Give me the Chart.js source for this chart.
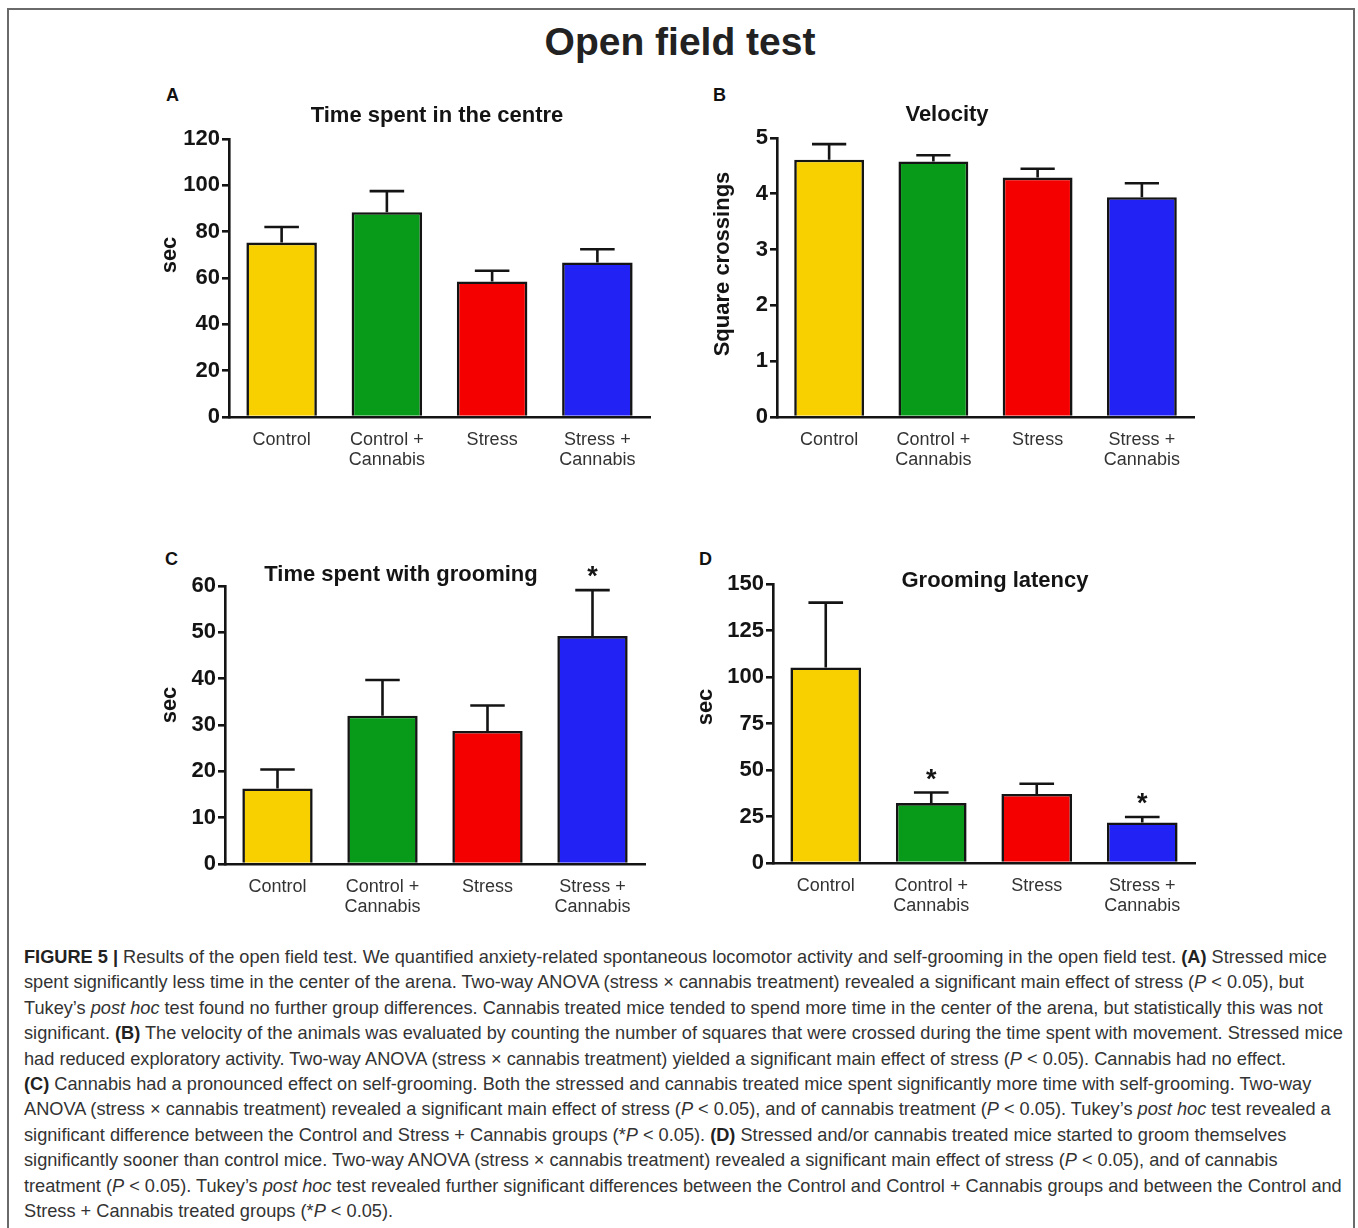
<!DOCTYPE html>
<html>
<head>
<meta charset="utf-8">
<title>Open field test</title>
<script src="https://cdn.jsdelivr.net/npm/chart.js@4.4.1/dist/chart.umd.min.js"></script>
<style>
  html, body { margin: 0; padding: 0; background: #fff; }
  body { width: 1358px; height: 1228px; position: relative; overflow: hidden;
         font-family: "Liberation Sans", Arial, Helvetica, sans-serif; }
  #frame { position: absolute; left: 7px; top: 8px; width: 1348px; height: 1260px;
           border: 2px solid #6a6a6a; box-sizing: border-box; }
  #fig-title { position: absolute; left: 0; top: 22px; width: 1360px; text-align: center;
               font-weight: bold; font-size: 39px; line-height: 39px; color: #222; }
  .letter { position: absolute; font-weight: bold; font-size: 18px; line-height: 18px; color: #111; }
  canvas.panel { position: absolute; }
  #caption { position: absolute; left: 24px; top: 945px; font-size: 18.2px; line-height: 25.4px;
             color: #333; white-space: nowrap; }
  #caption b { color: #222; }
</style>
</head>
<body>
<div id="frame"></div>
<div id="fig-title">Open field test</div>

<div class="letter" style="left:166px; top:86px;">A</div>
<div class="letter" style="left:713px; top:86px;">B</div>
<div class="letter" style="left:165px; top:550px;">C</div>
<div class="letter" style="left:699px; top:550px;">D</div>

<canvas class="panel" id="panelA"></canvas>
<canvas class="panel" id="panelB"></canvas>
<canvas class="panel" id="panelC"></canvas>
<canvas class="panel" id="panelD"></canvas>

<div id="caption">
<b>FIGURE 5 |</b> Results of the open field test. We quantified anxiety-related spontaneous locomotor activity and self-grooming in the open field test. <b>(A)</b> Stressed mice<br>
spent significantly less time in the center of the arena. Two-way ANOVA (stress × cannabis treatment) revealed a significant main effect of stress (<i>P</i> &lt; 0.05), but<br>
Tukey’s <i>post hoc</i> test found no further group differences. Cannabis treated mice tended to spend more time in the center of the arena, but statistically this was not<br>
significant. <b>(B)</b> The velocity of the animals was evaluated by counting the number of squares that were crossed during the time spent with movement. Stressed mice<br>
had reduced exploratory activity. Two-way ANOVA (stress × cannabis treatment) yielded a significant main effect of stress (<i>P</i> &lt; 0.05). Cannabis had no effect.<br>
<b>(C)</b> Cannabis had a pronounced effect on self-grooming. Both the stressed and cannabis treated mice spent significantly more time with self-grooming. Two-way<br>
ANOVA (stress × cannabis treatment) revealed a significant main effect of stress (<i>P</i> &lt; 0.05), and of cannabis treatment (<i>P</i> &lt; 0.05). Tukey’s <i>post hoc</i> test revealed a<br>
significant difference between the Control and Stress + Cannabis groups (*<i>P</i> &lt; 0.05). <b>(D)</b> Stressed and/or cannabis treated mice started to groom themselves<br>
significantly sooner than control mice. Two-way ANOVA (stress × cannabis treatment) revealed a significant main effect of stress (<i>P</i> &lt; 0.05), and of cannabis<br>
treatment (<i>P</i> &lt; 0.05). Tukey’s <i>post hoc</i> test revealed further significant differences between the Control and Control + Cannabis groups and between the Control and<br>
Stress + Cannabis treated groups (*<i>P</i> &lt; 0.05).
</div>

<script>
// Experimental groups (x-axis categories)
const groups = [["Control"], ["Control +", "Cannabis"], ["Stress"], ["Stress +", "Cannabis"]];

// (A) Time spent in the centre, sec: mean and SEM
const centreTimeMean = [75.3, 88.4, 58.5, 66.7];
const centreTimeSem  = [6.7, 9.1, 4.6, 5.7];

// (B) Velocity, square crossings: mean and SEM
const velocityMean = [4.61, 4.58, 4.29, 3.94];
const velocitySem  = [0.28, 0.11, 0.16, 0.25];

// (C) Time spent with grooming, sec: mean, SEM, significance vs Control
const groomTimeMean = [16.3, 32.0, 28.7, 49.2];
const groomTimeSem  = [4.1, 7.7, 5.5, 9.9];
const groomTimeSig  = ["", "", "", "*"];

// (D) Grooming latency, sec: mean, SEM, significance vs Control
const groomLatencyMean = [105.1, 32.2, 37.1, 21.8];
const groomLatencySem  = [34.9, 5.7, 5.5, 2.9];
const groomLatencySig  = ["", "*", "", "*"];

// y-axis ranges: [min, max, step]
const centreTimeAxis   = [0, 120, 20];
const velocityAxis     = [0, 5, 1];
const groomTimeAxis    = [0, 60, 10];
const groomLatencyAxis = [0, 150, 25];

const groupColors = ["#F8D000", "#089A19", "#F40000", "#2222F4"];
const INK = "#141414";
const FONT = '"Liberation Sans", Arial, Helvetica, sans-serif';

// Upper SEM whiskers and significance asterisks, placed from the data via the scales
const errorBars = {
  id: "errorBars",
  afterDatasetsDraw(chart, args, opts) {
    const ds = chart.data.datasets[0];
    const meta = chart.getDatasetMeta(0);
    const yScale = chart.scales.y;
    const ctx = chart.ctx;
    ctx.save();
    ctx.strokeStyle = INK;
    ctx.lineWidth = opts.lineWidth;
    meta.data.forEach((bar, i) => {
      const top = yScale.getPixelForValue(ds.data[i] + ds.sem[i]);
      const half = bar.width * opts.capRatio / 2;
      ctx.beginPath();
      ctx.moveTo(bar.x, bar.y);
      ctx.lineTo(bar.x, top);
      ctx.moveTo(bar.x - half, top);
      ctx.lineTo(bar.x + half, top);
      ctx.stroke();
      const mark = ds.sig ? ds.sig[i] : "";
      if (mark) {
        ctx.fillStyle = INK;
        ctx.font = "bold 27px " + FONT;
        ctx.textAlign = "center";
        ctx.textBaseline = "alphabetic";
        ctx.fillText(mark, bar.x, top - opts.markGap);
      }
    });
    ctx.restore();
  }
};

// Panel heading and rotated y-axis title
const panelText = {
  id: "panelText",
  afterDraw(chart, args, o) {
    const ctx = chart.ctx;
    ctx.save();
    ctx.fillStyle = INK;
    ctx.font = "bold 22px " + FONT;
    ctx.textAlign = "center";
    ctx.textBaseline = "middle";
    ctx.fillText(o.title, o.titleX, o.titleY);
    ctx.translate(o.axisX, o.axisY);
    ctx.rotate(-Math.PI / 2);
    ctx.fillText(o.axisTitle, 0, 0);
    ctx.restore();
  }
};

function makePanel(id, box, area, means, sems, sig, axis, text) {
  const canvas = document.getElementById(id);
  canvas.width = box.w;
  canvas.height = box.h;
  canvas.style.left = box.x + "px";
  canvas.style.top = box.y + "px";
  canvas.style.width = box.w + "px";
  canvas.style.height = box.h + "px";

  const yWidth = area.left - box.x;
  const xHeight = box.y + box.h - area.bottom;

  return new Chart(canvas, {
    type: "bar",
    data: {
      labels: groups,
      datasets: [{
        data: means,
        sem: sems,
        sig: sig,
        backgroundColor: groupColors,
        borderColor: INK,
        borderWidth: 2.6,
        borderSkipped: "start",
        categoryPercentage: 1,
        barPercentage: 0.67
      }]
    },
    options: {
      responsive: false,
      animation: false,
      devicePixelRatio: 1,
      layout: {
        padding: {
          left: 0,
          top: area.top - box.y,
          right: box.x + box.w - area.right,
          bottom: 0
        }
      },
      plugins: {
        legend: { display: false },
        tooltip: { enabled: false },
        title: { display: false },
        errorBars: { lineWidth: 2.6, capRatio: 0.49, markGap: 5 },
        panelText: {
          title: text.title,
          titleX: text.titleX - box.x,
          titleY: text.titleY - box.y,
          axisTitle: text.axisTitle,
          axisX: text.axisX - box.x,
          axisY: text.axisY - box.y
        }
      },
      scales: {
        x: {
          offset: true,
          grid: { display: false, drawTicks: false, drawOnChartArea: false },
          border: { display: true, color: INK, width: 2.6 },
          ticks: {
            color: "#333",
            font: { family: FONT, size: 18, lineHeight: 1.12 },
            padding: 13,
            maxRotation: 0,
            autoSkip: false,
            crossAlign: "near"
          },
          afterFit(scale) { scale.height = xHeight; }
        },
        y: {
          min: axis[0],
          max: axis[1],
          grid: {
            display: true,
            drawOnChartArea: false,
            drawTicks: true,
            tickLength: 7,
            color: INK,
            lineWidth: 2.6
          },
          border: { display: true, color: INK, width: 2.6 },
          ticks: {
            stepSize: axis[2],
            color: INK,
            font: { family: FONT, size: 22, weight: "bold" },
            padding: 2
          },
          afterFit(scale) { scale.width = yWidth; }
        }
      }
    },
    plugins: [errorBars, panelText]
  });
}

makePanel("panelA",
  { x: 140, y: 80, w: 540, h: 400 },
  { left: 229, top: 139, right: 650, bottom: 417 },
  centreTimeMean, centreTimeSem, null, centreTimeAxis,
  { title: "Time spent in the centre", titleX: 437, titleY: 116,
    axisTitle: "sec", axisX: 170, axisY: 255 });

makePanel("panelB",
  { x: 690, y: 80, w: 540, h: 400 },
  { left: 777, top: 138, right: 1194, bottom: 417 },
  velocityMean, velocitySem, null, velocityAxis,
  { title: "Velocity", titleX: 947, titleY: 115,
    axisTitle: "Square crossings", axisX: 723, axisY: 264 });

makePanel("panelC",
  { x: 140, y: 540, w: 540, h: 390 },
  { left: 225, top: 586, right: 645, bottom: 864 },
  groomTimeMean, groomTimeSem, groomTimeSig, groomTimeAxis,
  { title: "Time spent with grooming", titleX: 401, titleY: 575,
    axisTitle: "sec", axisX: 170, axisY: 705 });

makePanel("panelD",
  { x: 685, y: 540, w: 545, h: 390 },
  { left: 773, top: 584, right: 1195, bottom: 863 },
  groomLatencyMean, groomLatencySem, groomLatencySig, groomLatencyAxis,
  { title: "Grooming latency", titleX: 995, titleY: 581,
    axisTitle: "sec", axisX: 706, axisY: 707 });
</script>
</body>
</html>
